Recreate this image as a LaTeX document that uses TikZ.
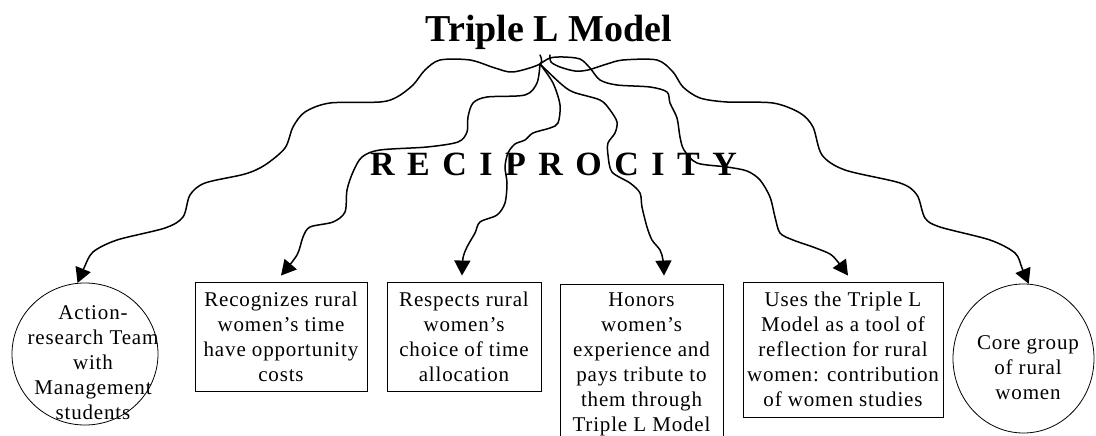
\documentclass[tikz,border=0pt]{standalone}
\usepackage{fontspec}
\setmainfont{Liberation Serif}
\usetikzlibrary{shapes.geometric,arrows.meta,calc}

\begin{document}
\begin{tikzpicture}[x=1pt,y=-1pt,
  bodytext/.style={font=\fontsize{21}{25}\selectfont\addfontfeatures{LetterSpace=4}, align=center, inner sep=0pt},
  card/.style={bodytext, draw, line width=0.9pt},
  oval/.style={draw, ellipse, line width=0.8pt, inner sep=0pt},
  heading/.style={font=\fontsize{38}{40}\selectfont\bfseries, inner sep=0pt, anchor=base},
  spaced/.style={font=\fontsize{34}{36}\selectfont\bfseries, inner sep=0pt, anchor=base},
  wave/.style={line width=1.5pt, line join=round, line cap=round,
    -{Triangle[length=15pt,width=16pt]}},
]
\useasboundingbox (0,0) rectangle (1096,436);
\clip (0,0) rectangle (1096,436);

% headings
\node[heading] (title) at (549,42) {Triple L Model};
\node[spaced] (recip) at (553.5,175) {\spaceskip=12.5pt\relax R E C I P R O C I T Y};

% the two groups of people (ovals with their labels)
\node[oval, minimum width=146pt, minimum height=142pt] (act) at (85,354) {};
\node[bodytext] (actlabel) at (93,363)
  {Action-\\research Team\\with\\Management\\students};
\node[oval, minimum width=141pt, minimum height=149pt] (core) at (1023.5,358.5) {};
\node[bodytext] (corelabel) at (1028,368) {Core group\\of rural\\women};

% the four principles
\node[card, minimum width=172pt, minimum height=109pt] (b2) at (281,336.5)
  {Recognizes rural\\women’s time\\have opportunity\\costs};
\node[card, minimum width=154pt, minimum height=109pt] (b3) at (464,336.5)
  {Respects rural\\women’s\\choice of time\\allocation};
\node[card, minimum width=163pt, minimum height=161pt] (b4) at (641.5,364.5)
  {Honors\\women’s\\experience and\\pays tribute to\\them through\\Triple L Model};
\node[card, minimum width=200pt, minimum height=135pt] (b5) at (843,349.5)
  {Uses the Triple L\\Model as a tool of\\reflection for rural\\women: contribution\\of women studies};

% where the strands leave the title and where they land
\coordinate (hub) at (540,55);
\coordinate (knot) at (540,64);
\coordinate (hub2) at (550,55);
\coordinate (t1) at (act.96);
\coordinate (t2) at ($(b2.north)+(0,-6)$);
\coordinate (t3) at ($(b3.north)+(-2,-6)$);
\coordinate (t4) at ($(b4.north)+(22.5,-8)$);
\coordinate (t5) at ($(b5.north)+(5,-6)$);
\coordinate (t6) at (core.86);

% wavy strands
\draw[wave] plot[smooth, tension=0.5] coordinates {(hub) (knot) (513,72) (495,68) (470,60)
  (440,60) (425,70) (413,85) (397,97) (380,102) (330,103) (305,112) (293,127) (285,148)
  (265,165) (245,174) (205,183) (190,195) (183,217) (165,228) (117,240) (93,252) (84,268) (t1)};
\draw[wave] plot[smooth, tension=0.5] coordinates {(knot) (537,83) (525,95) (487,97) (473,103)
  (468,117) (467,132) (458,142) (427,147) (380,150) (362,157) (353,172) (347,190) (345,212)
  (333,222) (310,227) (303,237) (297,255) (t2)};
\draw[wave] plot[smooth, tension=0.5] coordinates {(knot) (553,83) (560,105) (558,123) (550,128)
  (533,133) (525,140) (515,144) (508,153) (505,167) (507,183) (505,203) (497,215) (480,222)
  (475,233) (467,247) (463,258) (t3)};
\draw[wave] plot[smooth, tension=0.5] coordinates {(knot) (560,83) (573,92) (600,100) (610,110)
  (617,122) (615,133) (608,143) (608,155) (612,172) (630,183) (640,193) (642,207) (647,227)
  (652,240) (660,250) (663,260) (t4)};
\draw[wave] plot[smooth, tension=0.5] coordinates {(knot) (550,58) (563,57) (580,59) (590,68)
  (600,80) (617,85) (650,87) (667,92) (670,103) (677,118) (680,137) (684,150) (697,163)
  (727,167) (747,171) (760,180) (770,197) (775,217) (780,233) (793,240) (813,247) (830,254)
  (838,262) (t5)};
\draw[wave] plot[smooth, tension=0.5] coordinates {(hub2) (551,62) (560,67) (575,71) (588,70)
  (607,64) (623,60) (657,60) (673,72) (683,87) (700,98) (727,102) (773,103) (800,113)
  (813,127) (822,155) (845,170) (900,183) (917,195) (925,218) (940,227) (990,240) (1015,253)
  (1022,268) (t6)};
\end{tikzpicture}
\end{document}
